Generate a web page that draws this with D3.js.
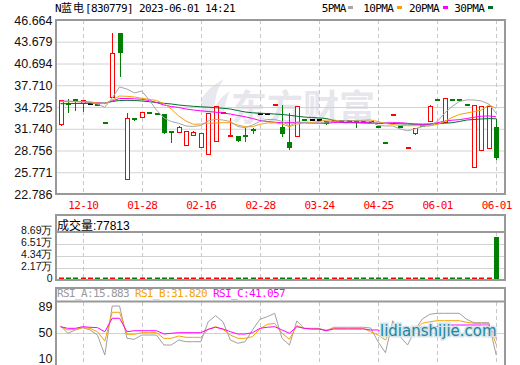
<!DOCTYPE html>
<html>
<head>
<meta charset="utf-8">
<script src="https://cdn.jsdelivr.net/npm/d3@7"></script>
<style>
html, body { margin: 0; padding: 0; background: #fff; }
svg { display: block; }
.mono { font-family: "DejaVu Sans Mono", monospace; font-size: 11px; letter-spacing: -0.62px; }
.num { font-family: "Liberation Sans", Arial, sans-serif; font-size: 12.5px; fill: #111; }
.vnum { font-family: "Liberation Sans", Arial, sans-serif; font-size: 10.5px; fill: #111; }
</style>
</head>
<body>
<svg id="chart" width="520" height="365"></svg>
<script>
// x axis labels (candle index where each label sits)
var dateLabels = ["12-10", "01-28", "02-16", "02-28", "03-24", "04-25", "06-01", "06-01"];
var dateIdx = [3, 11, 19, 27, 35, 43, 51, 59];
var priceTicks = [22.786, 25.771, 28.756, 31.740, 34.725, 37.710, 40.694, 43.679, 46.664];
var volTicks = [0, 21725, 43450, 65175, 86900];
var volTickLabels = ["0", "2.17万", "4.34万", "6.51万", "8.69万"];
var rsiTicks = [10, 50, 89];

var openP = [32.25,35.27,35.82,35.14,35.10,35.05,32.58,35.92,44.84,24.67,
    33.21,33.26,34.03,33.89,33.76,31.43,31.12,29.31,30.74,29.06,
    28.10,29.99,33.88,30.72,30.74,30.95,31.71,33.83,33.83,34.98,
    32.02,29.92,30.54,32.97,32.94,32.94,32.84,32.82,32.80,32.80,
    32.80,32.70,32.70,32.01,29.91,33.61,32.01,29.04,31.02,32.13,
    32.67,35.81,32.57,35.72,35.72,35.03,26.31,28.71,28.92,31.94];
var highP = [35.64,35.82,35.82,35.70,35.10,35.05,32.58,44.84,44.84,33.94,
    33.21,34.00,34.03,33.89,33.76,31.43,32.12,31.43,31.39,31.12,
    33.86,34.93,33.92,33.22,30.74,31.84,31.84,33.83,33.83,35.02,
    35.00,33.97,34.86,32.97,32.94,32.94,32.84,32.86,32.80,32.80,
    32.80,32.70,32.70,32.01,29.91,33.65,32.01,29.08,31.91,32.13,
    35.04,35.81,35.92,35.72,35.72,35.03,35.00,34.93,34.86,33.04];
var lowP = [32.12,34.08,34.31,34.08,35.10,34.98,32.50,35.92,39.02,24.67,
    32.98,33.26,33.97,33.83,31.09,29.96,31.12,29.31,30.74,29.06,
    28.10,29.99,33.88,30.72,30.10,30.10,31.16,33.83,33.83,34.98,
    30.74,28.96,30.54,32.91,32.94,32.94,32.43,32.82,32.80,32.80,
    32.02,32.64,32.64,31.95,29.85,33.61,31.95,29.04,30.84,32.07,
    32.67,35.75,32.57,35.66,35.66,34.97,26.31,28.71,28.92,27.55];
var closeP = [35.64,35.14,35.41,35.64,35.10,34.98,32.50,42.09,42.18,33.17,
    32.98,34.00,33.97,33.83,31.09,31.30,31.94,31.43,31.23,31.12,
    33.86,34.93,33.92,30.76,30.10,30.57,31.57,33.83,33.83,35.02,
    31.02,29.10,34.86,32.91,32.94,32.94,32.43,32.86,32.80,32.80,
    32.67,32.64,32.64,31.95,29.85,33.65,31.95,29.08,31.91,32.07,
    34.86,35.75,35.92,35.66,35.66,34.97,35.00,34.93,34.86,27.77];
var volume = [1200,640,820,700,300,350,260,1500,1400,1700,
    420,380,300,260,900,520,610,740,330,560,
    1100,960,280,420,600,510,340,300,300,360,
    720,810,900,330,300,300,420,300,300,300,
    380,300,300,340,360,380,320,400,620,300,
    700,380,860,320,300,340,1300,1100,1000,77813];

var ma5 = [35.51,35.51,35.48,35.45,35.34,35.14,34.68,35.96,37.47,37.19,
    36.65,36.92,35.69,34.31,33.22,32.73,32.49,32.12,32.05,32.19,
    32.80,33.04,32.94,32.73,32.05,31.88,32.25,32.73,33.01,33.01,
    32.76,32.12,32.67,32.60,32.49,32.53,32.67,32.73,32.84,32.84,
    32.84,32.84,32.73,32.19,32.12,32.12,31.71,31.47,31.71,32.05,
    32.16,32.71,33.86,34.77,35.48,35.69,35.69,35.55,35.14,33.86];
var ma10 = [35.45,35.45,35.45,35.45,35.41,35.27,35.18,35.69,36.23,36.19,
    36.10,35.92,35.78,35.62,35.21,34.45,33.49,32.80,32.35,32.39,
    32.49,32.53,32.57,32.57,32.25,32.02,32.02,32.35,32.53,32.57,
    32.39,32.02,32.39,32.53,32.60,32.73,32.94,32.94,32.80,32.80,
    32.87,32.94,32.94,32.73,32.46,32.32,32.19,32.16,32.16,32.16,
    32.15,32.32,32.73,33.28,33.70,33.90,34.08,34.31,35.00,34.55];
var ma20 = [35.51,35.51,35.48,35.44,35.38,35.32,35.21,35.55,35.89,35.89,
    35.85,35.78,35.62,35.34,35.00,34.79,34.66,34.45,34.31,34.20,
    34.11,34.01,33.90,33.76,33.56,33.39,33.15,32.87,32.73,32.63,
    32.57,32.57,32.57,32.57,32.53,32.49,32.49,32.60,32.63,32.63,
    32.63,32.60,32.53,32.49,32.53,32.57,32.57,32.49,32.39,32.35,
    32.39,32.56,32.78,32.91,32.98,33.15,33.31,33.46,33.49,33.39];
var ma30 = [35.18,35.18,35.21,35.21,35.23,35.23,35.27,35.48,35.62,35.64,
    35.62,35.55,35.45,35.34,35.23,35.14,35.00,34.90,34.82,34.75,
    34.70,34.63,34.55,34.45,34.24,34.04,33.93,33.87,33.83,33.76,
    33.70,33.59,33.46,33.35,33.28,33.22,33.15,32.87,32.60,32.57,
    32.56,32.53,32.53,32.49,32.49,32.46,32.42,32.39,32.36,32.35,
    32.36,32.42,32.50,32.57,32.73,32.94,33.01,33.08,33.13,33.11];

var rsiA = [59.8,48.8,53.8,57.3,53.8,46.2,16.0,90.0,90.0,41.2,
    39.7,46.2,46.2,46.2,31.1,31.1,38.7,36.1,36.1,36.1,
    66.3,75.4,66.3,38.7,33.7,36.1,53.8,69.9,73.9,79.0,
    41.2,31.1,67.4,56.3,56.3,56.3,52.3,57.9,57.9,57.9,
    57.9,57.9,56.8,36.1,19.5,67.8,43.7,31.1,53.8,70.4,
    77.5,79.0,79.0,79.0,79.0,69.9,64.8,64.8,64.8,15.883];
var rsiB = [58.8,53.8,54.8,57.3,56.3,51.2,37.2,80.5,80.5,47.3,
    47.3,49.7,49.7,49.7,41.2,41.2,44.7,42.7,42.7,42.7,
    54.8,58.8,54.8,46.2,41.2,41.2,43.7,55.3,62.4,63.9,
    48.8,39.7,60.3,56.3,55.3,55.3,53.8,56.3,56.3,56.3,
    56.3,56.3,51.2,46.2,38.7,56.3,48.8,43.7,53.8,63.9,
    66.3,67.8,67.8,67.8,67.8,65.4,63.9,63.9,63.9,31.82];
var rsiC = [58.8,56.3,56.3,58.8,57.9,57.3,51.2,71.5,71.5,51.2,
    52.7,52.7,52.7,52.7,47.7,48.8,49.7,49.7,49.7,49.7,
    54.8,57.9,55.3,51.2,47.7,47.7,49.7,56.3,57.9,58.8,
    53.8,48.8,58.8,56.3,55.3,55.3,52.7,55.3,55.3,55.3,
    55.3,55.3,53.8,53.8,47.7,54.8,52.7,51.2,53.8,58.8,
    58.8,58.8,61.3,61.3,61.3,61.3,61.3,61.3,61.3,41.057];

var RED = "#ff0000", GREEN = "#008000", BORDER = "#999", GRID = "#d2d2d2", VGRID = "#c8c8c8";
var maColors = { ma5: "#a6a6a6", ma10: "#f5a300", ma20: "#ff00ff", ma30: "#006e2e" };

var svg = d3.select("#chart");
var x = d3.scaleLinear().domain([0, 59]).range([60.5, 496.2]);
function cx(i) { return Math.round(x(i)); }

var candles = d3.range(openP.length).map(function(i) {
    return { i: i, o: openP[i], h: highP[i], l: lowP[i], c: closeP[i], v: volume[i] };
});
function colorOf(d) { return d.c > d.o ? RED : (d.c < d.o ? GREEN : "#000"); }

function vGrid(g, top, bottom) {
    g.append("g").selectAll("line")
        .data(dateIdx)
        .enter().append("line")
        .attr("x1", function(d) { return cx(d) + 0.5; })
        .attr("x2", function(d) { return cx(d) + 0.5; })
        .attr("y1", top).attr("y2", bottom)
        .attr("stroke", VGRID)
        .attr("stroke-dasharray", "4,3");
}

function hGrid(g, scale, ticks) {
    g.append("g")
        .attr("transform", "translate(55,0)")
        .call(d3.axisLeft(scale).tickValues(ticks).tickSize(-450).tickFormat(""))
        .call(function(a) {
            a.select(".domain").remove();
            a.selectAll("line").attr("stroke", GRID);
        });
}

function leftLabels(g, scale, ticks, fmt, dy, cls) {
    g.append("g")
        .attr("transform", "translate(55,0)")
        .call(d3.axisLeft(scale).tickValues(ticks).tickSize(0).tickPadding(2.5).tickFormat(fmt))
        .call(function(a) {
            a.select(".domain").remove();
            a.attr("font-family", null).attr("font-size", null);
            a.selectAll("text").attr("class", cls || "num").attr("fill", "#111").attr("dy", dy);
        });
}

// ---------- main price panel ----------
var yP = d3.scaleLinear().domain([22.786, 46.664]).range([194, 20]);
var main = svg.append("g");

// faint watermark
main.append("path")
    .attr("d", "M203,113 C197,101 204,90 224,79 C214,92 217,101 212,113 Z M214,113 C215,103 222,96 230,91 C225,100 226,107 223,113 Z")
    .attr("fill", "#e8e8ee");
main.append("text")
    .attr("x", 231).attr("y", 121)
    .style("font-family", "'Noto Sans CJK SC'")
    .style("font-size", "36px")
    .style("font-weight", "bold")
    .style("fill", "#e6e6ec")
    .text("东方财富");

hGrid(main, yP, priceTicks);
vGrid(main, 20, 194);

var cg = main.append("g");
candles.forEach(function(d) {
    var col = colorOf(d), px = cx(d.i);
    var top = Math.round(yP(Math.max(d.o, d.c))), bot = Math.round(yP(Math.min(d.o, d.c)));
    var hollow = d.c > d.o && bot - top >= 3;
    if (hollow) {
        cg.append("line").attr("x1", px + 0.5).attr("x2", px + 0.5)
            .attr("y1", Math.round(yP(d.h))).attr("y2", top).attr("stroke", col);
        cg.append("line").attr("x1", px + 0.5).attr("x2", px + 0.5)
            .attr("y1", bot).attr("y2", Math.round(yP(d.l))).attr("stroke", col);
        cg.append("rect")
            .attr("x", px - 1.5).attr("y", top + 0.5)
            .attr("width", 4).attr("height", bot - top - 1)
            .attr("fill", "#fff").attr("stroke", col);
    } else {
        cg.append("line").attr("x1", px + 0.5).attr("x2", px + 0.5)
            .attr("y1", Math.round(yP(d.h))).attr("y2", Math.round(yP(d.l)) + 1).attr("stroke", col);
        var h = bot - top, y0 = top;
        if (h < 2) { y0 = Math.round((top + bot) / 2) - 1; h = 2; }
        cg.append("rect")
            .attr("x", px - 2).attr("y", y0)
            .attr("width", 5).attr("height", h)
            .attr("fill", col);
    }
});

var maLine = d3.line()
    .x(function(d, i) { return x(i); })
    .y(function(d) { return yP(d); });
[["ma30", ma30], ["ma20", ma20], ["ma10", ma10], ["ma5", ma5]].forEach(function(m) {
    main.append("path")
        .datum(m[1])
        .attr("d", maLine)
        .attr("fill", "none")
        .attr("stroke", maColors[m[0]])
        .attr("stroke-width", 1);
});

main.append("rect")
    .attr("x", 56).attr("y", 20).attr("width", 449).attr("height", 174)
    .attr("fill", "none").attr("stroke", BORDER).attr("stroke-width", 2);

leftLabels(main, yP, priceTicks, function(d) { return d.toFixed(3); }, "0.32em");

main.append("g")
    .attr("transform", "translate(0,194)")
    .call(d3.axisBottom(x).tickValues(dateIdx).tickSize(0).tickPadding(7.2)
        .tickFormat(function(d, i) { return dateLabels[i]; }))
    .call(function(a) {
        a.select(".domain").remove();
        a.attr("font-family", null).attr("font-size", null);
        a.selectAll("text").attr("class", "mono").attr("fill", RED);
    });

// title + legend
var title = svg.append("text").attr("class", "mono").attr("x", 55).attr("y", 12).attr("fill", "#000");
title.append("tspan").text("N");
title.append("tspan").style("font-family", "'Noto Sans CJK SC'").style("font-size", "11px").style("letter-spacing", "1px").text("蓝电");
title.append("tspan").text("[830779] 2023-06-01 14:21");

var legend = [["5PMA", "ma5", 321.7, 348.3], ["10PMA", "ma10", 363.3, 396.7], ["20PMA", "ma20", 409, 442.7], ["30PMA", "ma30", 454.3, 488]];
legend.forEach(function(l) {
    svg.append("text").attr("class", "mono").attr("x", l[2]).attr("y", 12).attr("fill", "#000").text(l[0]);
    svg.append("rect").attr("x", Math.round(l[3])).attr("y", 6).attr("width", 5).attr("height", 3).attr("fill", maColors[l[1]]);
});

// ---------- volume panel ----------
var yV = d3.scaleLinear().domain([0, 86900]).range([280, 232]);
var vol = svg.append("g");
hGrid(vol, yV, volTicks);
vGrid(vol, 232, 280);
vol.append("g").selectAll("rect")
    .data(candles)
    .enter().append("rect")
    .attr("x", function(d) { return cx(d.i) - 2; })
    .attr("y", function(d) { return Math.min(Math.round(yV(d.v)), 277.5); })
    .attr("width", 5)
    .attr("height", function(d) { return 279 - Math.min(Math.round(yV(d.v)), 277.5); })
    .attr("fill", function(d) { return d.c < d.o ? GREEN : RED; });
vol.append("rect")
    .attr("x", 56).attr("y", 215).attr("width", 449).attr("height", 65)
    .attr("fill", "none").attr("stroke", BORDER).attr("stroke-width", 2);
vol.append("line").attr("x1", 56).attr("x2", 505).attr("y1", 232).attr("y2", 232)
    .attr("stroke", BORDER).attr("stroke-width", 2);
leftLabels(vol, yV, volTicks, function(d, i) { return volTickLabels[i]; }, "0.1em", "vnum");
vol.append("text")
    .attr("x", 57).attr("y", 229.5)
    .style("font-family", "'Liberation Sans', 'Noto Sans CJK SC', sans-serif")
    .style("font-size", "12px")
    .attr("fill", "#000")
    .text("成交量:77813");

// ---------- RSI panel ----------
var yR = d3.scaleLinear().domain([0, 100]).range([365.6, 299.4]);
var rsi = svg.append("g");
rsi.append("line").attr("x1", 56).attr("x2", 505)
    .attr("y1", Math.round(yR(50)) + 0.5).attr("y2", Math.round(yR(50)) + 0.5)
    .attr("stroke", GRID);
vGrid(rsi, 302, 365);
var rsiLine = d3.line()
    .x(function(d, i) { return x(i); })
    .y(function(d) { return yR(d); });
[[rsiA, "#a0a0a0"], [rsiB, "#f5a300"], [rsiC, "#ff00ff"]].forEach(function(r) {
    rsi.append("path").datum(r[0]).attr("d", rsiLine)
        .attr("fill", "none").attr("stroke", r[1]).attr("stroke-width", 1);
});
rsi.append("rect")
    .attr("x", 56).attr("y", 288).attr("width", 449).attr("height", 80)
    .attr("fill", "none").attr("stroke", BORDER).attr("stroke-width", 2);
rsi.append("line").attr("x1", 56).attr("x2", 505).attr("y1", 301.5).attr("y2", 301.5)
    .attr("stroke", BORDER).attr("stroke-width", 2);
leftLabels(rsi, yR, rsiTicks, function(d) { return d; }, "0.32em");

var rt = rsi.append("text").attr("class", "mono").attr("x", 57).attr("y", 296.5);
rt.append("tspan").attr("fill", "#999").text("RSI_A:15.883 ");
rt.append("tspan").attr("fill", "#f5a300").text("RSI_B:31.820 ");
rt.append("tspan").attr("fill", "#ff00ff").text("RSI_C:41.057");

// site mark
svg.append("text")
    .attr("x", 380).attr("y", 336)
    .style("font-family", "'DejaVu Sans', sans-serif")
    .style("font-size", "15px")
    .style("paint-order", "stroke")
    .attr("fill", "#23849f")
    .attr("stroke", "#d4e4e8")
    .attr("stroke-width", 3)
    .text("lidianshijie.com");
</script>
</body>
</html>
